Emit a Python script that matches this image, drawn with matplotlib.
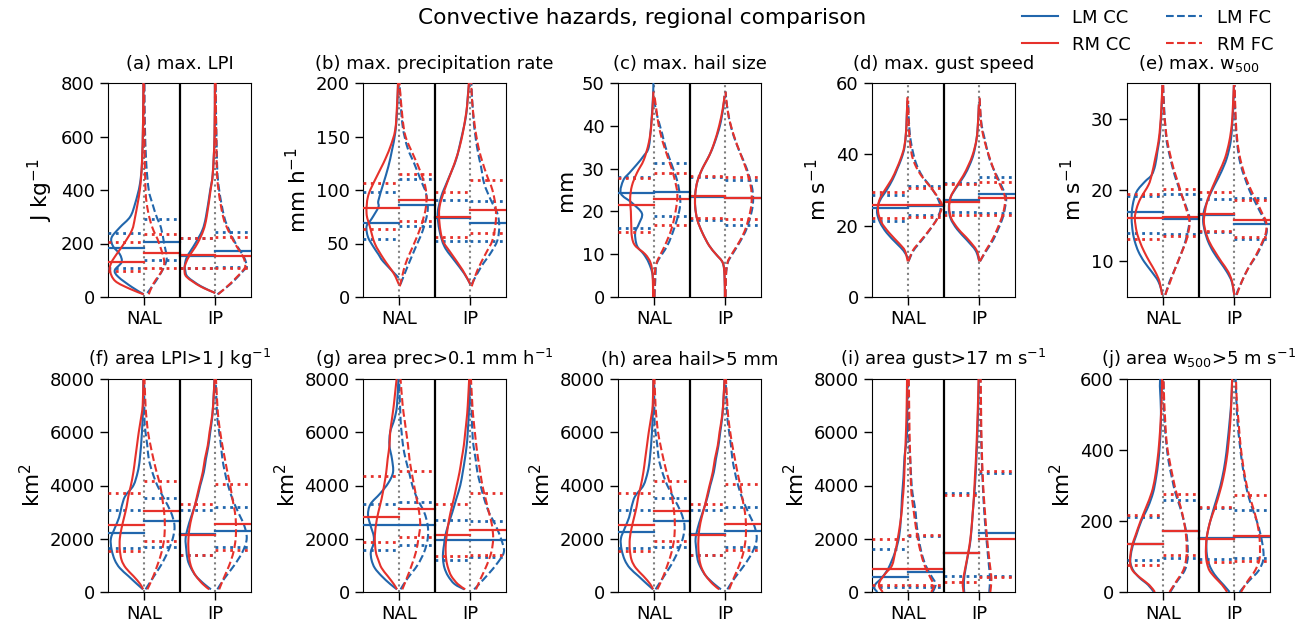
import matplotlib
matplotlib.use('Agg')
import matplotlib.pyplot as plt
from matplotlib.lines import Line2D
from matplotlib.path import Path
from matplotlib.patches import PathPatch

# ---------------- metadata ----------------
PANELS = ['A', 'B', 'C', 'D', 'E', 'F', 'G', 'H', 'I', 'J']
REGIONS = ['NAL', 'IP']
SERIES = ['LM_CC', 'RM_CC', 'LM_FC', 'RM_FC']
TITLES = ['(a) max. LPI', '(b) max. precipitation rate', '(c) max. hail size',
          '(d) max. gust speed', '(e) max. w$_{500}$',
          '(f) area LPI>1 J kg$^{-1}$', '(g) area prec>0.1 mm h$^{-1}$',
          '(h) area hail>5 mm', '(i) area gust>17 m s$^{-1}$',
          '(j) area w$_{500}$>5 m s$^{-1}$']
YLABELS = ['J kg$^{-1}$', 'mm h$^{-1}$', 'mm', 'm s$^{-1}$', 'm s$^{-1}$',
           'km$^2$', 'km$^2$', 'km$^2$', 'km$^2$', 'km$^2$']
YLIMS = [(0, 800), (0, 200), (0, 50), (0, 60), (5, 35),
         (0, 8000), (0, 8000), (0, 8000), (0, 8000), (0, 600)]
YTICKS = [[0, 200, 400, 600, 800], [0, 50, 100, 150, 200], [0, 10, 20, 30, 40, 50],
          [0, 20, 40, 60], [10, 20, 30], [0, 2000, 4000, 6000, 8000],
          [0, 2000, 4000, 6000, 8000], [0, 2000, 4000, 6000, 8000],
          [0, 2000, 4000, 6000, 8000], [0, 200, 400, 600]]
LEGEND_LABELS = ['LM CC', 'RM CC', 'LM FC', 'RM FC']

# ---------------- summary lines (NAL: LM_CC, RM_CC, LM_FC, RM_FC, then IP: same) -------------
A_MEAN = [185, 130, 207, 165, 152, 156, 171, 155]
A_Q25 = [110, 97, 137, 110, 110, 110, 112, 108]
A_Q75 = [240, 207, 291, 235, 222, 222, 244, 225]
B_MEAN = [69, 83, 86, 91, 74, 75, 69, 81]
B_Q25 = [54, 64, 66, 71, 52, 56, 52, 60]
B_Q75 = [98, 107, 110, 115, 91, 98, 90, 109]
C_MEAN = [24.2, 21.5, 24.6, 23.0, 23.4, 23.6, 23.2, 23.1]
C_Q25 = [16.2, 15.2, 19.0, 16.8, 18.0, 18.4, 16.8, 18.3]
C_Q75 = [28.0, 27.8, 31.3, 29.0, 28.0, 28.2, 27.4, 28.1]
D_MEAN = [25.0, 25.8, 25.5, 25.8, 27.2, 26.6, 28.8, 27.8]
D_Q25 = [21.3, 22.2, 23.0, 22.3, 23.9, 23.0, 23.6, 23.0]
D_Q75 = [28.6, 29.5, 31.1, 30.5, 32.0, 31.7, 33.7, 32.3]
E_MEAN = [16.96, 16.1, 15.9, 16.2, 16.5, 16.6, 15.2, 15.75]
E_Q25 = [14.0, 13.1, 13.9, 13.55, 14.15, 14.25, 13.2, 13.45]
E_Q75 = [19.2, 19.4, 19.5, 20.1, 18.8, 19.7, 18.9, 18.6]
F_MEAN = [2215, 2528, 2678, 3054, 2160, 2153, 2303, 2566]
F_Q25 = [1652, 1539, 1700, 1920, 1377, 1377, 1690, 1564]
F_Q75 = [3091, 3717, 3529, 4155, 3091, 3304, 3179, 4068]
G_MEAN = [2503, 2828, 2528, 3129, 1965, 2153, 1940, 2340]
G_Q25 = [1564, 1877, 1752, 2065, 1214, 1339, 1302, 1377]
G_Q75 = [3292, 4343, 3367, 4543, 2716, 3292, 2653, 3717]
H_MEAN = [2253, 2528, 2678, 3041, 2160, 2153, 2290, 2566]
H_Q25 = [1652, 1550, 1700, 1910, 1377, 1377, 1690, 1564]
H_Q75 = [3091, 3717, 3529, 4155, 3091, 3304, 3179, 4068]
I_MEAN = [551, 876, 738, 876, 1464, 1464, 2215, 1990]
I_Q25 = [170, 263, 170, 280, 613, 375, 610, 580]
I_Q75 = [1627, 1990, 2120, 2153, 3717, 3654, 4468, 4555]
J_MEAN = [135, 135, 171, 171, 153, 149, 155, 159]
J_Q25 = [91, 75, 95, 103, 93, 85, 97, 87]
J_Q75 = [210, 216, 260, 275, 237, 239, 232, 272]

# ---------------- violin outlines: [value, half-width fraction] ----------------
A_NAL_LM_CC = [[10, 0], [37, .33], [75, .71], [100, .81], [130, .62], [160, .67], [190, .86], [222, .9], [260, .67], [300, .38], [350, .24], [420, .11], [500, .05], [650, .02], [800, .01]]
A_NAL_RM_CC = [[10, 0], [30, .38], [60, .8], [100, .95], [130, .9], [160, .76], [200, .55], [250, .33], [300, .24], [400, .11], [500, .05], [650, .02], [800, .01]]
A_NAL_LM_FC = [[15, .1], [50, .29], [90, .48], [140, .64], [200, .57], [260, .48], [300, .36], [350, .24], [400, .14], [500, .07], [650, .03], [800, .02]]
A_NAL_RM_FC = [[10, .14], [50, .27], [120, .57], [200, .43], [260, .24], [320, .12], [400, .05], [600, .02], [800, .01]]
A_IP_LM_CC = [[15, 0], [40, .4], [75, .77], [100, .84], [120, .85], [150, .79], [200, .56], [250, .36], [300, .26], [400, .14], [460, .07], [600, .02], [800, .01]]
A_IP_RM_CC = [[15, 0], [40, .42], [75, .8], [100, .86], [120, .84], [150, .74], [200, .5], [250, .33], [300, .24], [400, .13], [460, .07], [600, .02], [800, .01]]
A_IP_LM_FC = [[10, .06], [50, .44], [100, .8], [115, .88], [150, .8], [200, .57], [250, .39], [300, .25], [400, .11], [500, .05], [800, .01]]
A_IP_RM_FC = [[10, .08], [50, .42], [100, .78], [120, .84], [150, .78], [200, .55], [250, .36], [300, .22], [400, .09], [500, .04], [800, .01]]

B_NAL_LM_CC = [[18, 0], [33, .43], [40, .57], [47, .71], [56, .86], [66, .9], [73, .76], [84, .57], [90, .57], [106, .43], [122, .29], [137, .19], [153, .1], [172, .05], [200, .02]]
B_NAL_RM_CC = [[12, 0], [22, .14], [36, .43], [50, .67], [66, .81], [78, .9], [94, .86], [109, .67], [125, .43], [140, .24], [156, .1], [178, .05], [200, .02]]
B_NAL_LM_FC = [[12, .05], [28, .24], [47, .48], [62, .67], [81, .81], [97, .76], [109, .62], [125, .43], [140, .24], [162, .1], [200, .02]]
B_NAL_RM_FC = [[10, .03], [31, .19], [50, .43], [66, .62], [84, .76], [100, .76], [116, .62], [131, .43], [150, .19], [169, .1], [200, .02]]
B_IP_LM_CC = [[12, 0], [22, .17], [34, .44], [47, .72], [62, .86], [78, .91], [94, .81], [109, .63], [128, .4], [147, .26], [169, .12], [191, .06], [200, .03]]
B_IP_RM_CC = [[12, 0], [25, .21], [41, .54], [53, .77], [69, .86], [84, .86], [100, .72], [116, .54], [134, .35], [153, .21], [178, .09], [200, .04]]
B_IP_LM_FC = [[12, .04], [28, .3], [41, .57], [53, .76], [66, .81], [78, .76], [91, .57], [106, .39], [122, .3], [140, .19], [166, .09], [200, .03]]
B_IP_RM_FC = [[10, .04], [25, .2], [41, .44], [53, .62], [69, .71], [84, .71], [100, .62], [116, .44], [137, .25], [159, .13], [184, .05], [200, .03]]

C_NAL_LM_CC = [[0, .02], [5, .03], [8, .14], [10, .28], [12, .47], [15, .52], [17, .42], [19.5, .33], [22, .61], [24.2, .92], [27.3, .85], [29, .68], [31, .47], [33, .28], [35, .14], [40.5, .07], [47, .02], [50, .01]]
C_NAL_RM_CC = [[0, .02], [5, .03], [8, .09], [10, .24], [12, .52], [14, .61], [17, .63], [20, .64], [23, .66], [26, .61], [29, .47], [32, .28], [36, .14], [40, .07], [46, .02], [48, .01]]
C_NAL_LM_FC = [[0, .02], [5, .05], [8, .09], [12, .38], [16, .57], [20, .71], [23, .74], [27, .66], [31, .5], [35, .33], [38, .24], [41, .14], [44, .05], [47, .01]]
C_NAL_RM_FC = [[0, .02], [5, .03], [8, .08], [12, .31], [16, .5], [20, .61], [24, .66], [28, .57], [32, .42], [36, .26], [40, .14], [44, .07], [47, .02]]
C_IP_LM_CC = [[0, .01], [5, .02], [8, .07], [10, .26], [12, .45], [15, .64], [18, .78], [21, .84], [24, .84], [27, .78], [30, .64], [33, .45], [36, .3], [40, .15], [44, .06], [47, .02]]
C_IP_RM_CC = [[0, .01], [5, .02], [8, .07], [10, .26], [12, .45], [15, .64], [18, .78], [21, .84], [24, .84], [27, .78], [30, .64], [33, .45], [36, .31], [40, .17], [44, .07], [47, .02]]
C_IP_LM_FC = [[0, .01], [5, .02], [8, .07], [10, .2], [13, .42], [16, .6], [20, .74], [23, .78], [26, .74], [30, .6], [34, .4], [38, .22], [42, .1], [46, .03], [48, .01]]
C_IP_RM_FC = [[0, .01], [5, .02], [8, .06], [10, .18], [13, .4], [16, .57], [20, .7], [23, .74], [26, .71], [30, .58], [34, .4], [38, .23], [42, .1], [46, .03], [48, .01]]

D_NAL_LM_CC = [[11, 0], [13, .12], [15, .31], [18, .59], [21, .78], [24, .86], [27, .78], [30, .59], [33, .42], [36, .29], [39, .17], [42, .09], [46, .05], [50, .03], [55, .01]]
D_NAL_RM_CC = [[10, 0], [13, .08], [15, .24], [18, .52], [21, .74], [24, .83], [27, .8], [30, .64], [33, .45], [36, .31], [39, .19], [42, .1], [46, .05], [50, .03], [56, .01]]
D_NAL_LM_FC = [[10, .02], [13, .16], [16, .4], [19, .63], [22, .82], [25, .92], [28, .82], [31, .63], [34, .4], [37, .25], [40, .16], [44, .08], [48, .04], [52, .02], [55, .01]]
D_NAL_RM_FC = [[10, .02], [13, .14], [16, .38], [19, .62], [22, .83], [25.5, .96], [28, .84], [31, .62], [34, .38], [37, .21], [40, .11], [44, .06], [48, .03], [55, .01]]
D_IP_LM_CC = [[10, 0], [13, .1], [16, .35], [19, .62], [22, .8], [25, .85], [28, .8], [31, .62], [34, .42], [37, .27], [40, .16], [44, .08], [48, .04], [54, .01]]
D_IP_RM_CC = [[10, 0], [13, .07], [16, .3], [19, .58], [22, .78], [25, .84], [28, .8], [31, .64], [34, .45], [37, .3], [40, .18], [44, .08], [48, .04], [54, .01]]
D_IP_LM_FC = [[10, .02], [13, .2], [16, .39], [19, .53], [22, .65], [25, .72], [28, .75], [31, .63], [34, .49], [37, .35], [40, .25], [44, .16], [48, .07], [52, .03], [56, .01]]
D_IP_RM_FC = [[10, .02], [13, .18], [16, .36], [19, .5], [22, .62], [25, .7], [28, .72], [31, .6], [34, .47], [37, .36], [40, .26], [44, .14], [48, .06], [52, .03], [56, .01]]

E_NAL_LM_CC = [[5.3, 0], [7.15, .12], [8.55, .31], [9.95, .52], [11.36, .68], [12.76, .78], [14.16, .84], [16.03, .87], [17.9, .84], [19.77, .73], [21.17, .5], [22.1, .31], [23.5, .21], [25.37, .15], [27.24, .09], [29.11, .06], [31.45, .03], [34.72, .01]]
E_NAL_RM_CC = [[5.3, .02], [7.15, .09], [8.55, .21], [9.95, .37], [11.36, .52], [12.76, .64], [14.16, .73], [16.03, .78], [17.43, .73], [18.83, .62], [20.7, .4], [22.1, .31], [24.44, .21], [26.78, .12], [29.11, .07], [31.45, .04], [34.72, .01]]
E_NAL_LM_FC = [[5.3, .07], [7.15, .19], [9.02, .35], [10.89, .5], [12.76, .63], [14.63, .72], [16.03, .75], [17.43, .67], [19.3, .53], [21.17, .39], [23.04, .28], [24.91, .19], [26.78, .11], [29.11, .07], [31.45, .04], [34.72, .01]]
E_NAL_RM_FC = [[5.3, .07], [7.15, .21], [9.02, .35], [10.89, .5], [12.76, .65], [14.16, .72], [15.56, .75], [17.43, .65], [19.3, .53], [21.17, .42], [23.04, .3], [24.91, .21], [26.78, .13], [29.11, .07], [31.45, .03], [34.72, .01]]
E_IP_LM_CC = [[5.3, 0], [7.15, .07], [8.55, .21], [9.95, .4], [11.36, .59], [12.76, .73], [14.16, .82], [15.56, .87], [16.96, .85], [18.36, .76], [19.77, .64], [21.17, .5], [22.57, .36], [24.44, .21], [26.78, .1], [29.11, .06], [31.45, .03], [34.72, .01]]
E_IP_RM_CC = [[5.3, 0], [7.15, .06], [8.55, .17], [9.95, .36], [11.36, .54], [12.76, .7], [14.16, .8], [15.56, .85], [16.96, .82], [18.36, .76], [19.77, .66], [21.17, .54], [22.57, .42], [24.44, .26], [26.78, .14], [29.11, .07], [31.45, .04], [34.72, .01]]
E_IP_LM_FC = [[5.3, .05], [7.15, .21], [9.02, .39], [10.89, .63], [12.76, .81], [14.16, .91], [15.56, .86], [16.96, .72], [18.36, .58], [19.77, .44], [21.64, .3], [23.5, .18], [25.37, .11], [27.24, .07], [30.05, .03], [34.72, .01]]
E_IP_RM_FC = [[5.3, .07], [7.15, .21], [9.02, .39], [10.89, .61], [12.76, .79], [14.16, .89], [15.56, .89], [16.96, .76], [18.36, .63], [19.77, .49], [21.64, .33], [23.5, .21], [25.37, .13], [27.24, .08], [30.05, .04], [34.72, .01]]

F_NAL_LM_CC = [[100, .02], [300, .19], [600, .43], [900, .67], [1200, .81], [1600, .9], [2000, .92], [2400, .81], [2800, .69], [3200, .62], [3600, .52], [4000, .29], [4500, .17], [5000, .11], [6000, .05], [7000, .02], [8000, .01]]
F_NAL_RM_CC = [[100, .02], [300, .1], [600, .29], [900, .5], [1200, .62], [1600, .67], [2000, .67], [2400, .62], [2800, .55], [3200, .48], [3600, .43], [4000, .36], [4500, .29], [5000, .24], [5500, .19], [6000, .14], [6500, .08], [7000, .03], [8000, .01]]
F_NAL_LM_FC = [[100, .05], [500, .24], [1000, .48], [1500, .67], [2000, .81], [2500, .86], [3000, .76], [3500, .57], [4000, .38], [4500, .24], [5000, .14], [5500, .1], [6000, .05], [6500, .02], [8000, .01]]
F_NAL_RM_FC = [[100, .1], [500, .24], [1000, .38], [1500, .5], [2000, .57], [2500, .59], [3000, .57], [3500, .52], [4000, .46], [4500, .36], [5000, .27], [5500, .19], [6000, .12], [6500, .08], [7000, .05], [8000, .02]]
F_IP_LM_CC = [[100, .12], [300, .31], [600, .54], [900, .68], [1200, .77], [1600, .81], [2000, .83], [2400, .77], [2800, .68], [3200, .58], [3600, .49], [4000, .42], [4500, .32], [5000, .26], [5500, .19], [6000, .14], [6500, .09], [7000, .06], [8000, .02]]
F_IP_RM_CC = [[100, .17], [300, .35], [600, .54], [900, .66], [1200, .72], [1600, .75], [2000, .75], [2400, .72], [2800, .66], [3200, .58], [3600, .51], [4000, .44], [4500, .35], [5000, .29], [5500, .21], [6000, .16], [6500, .1], [7000, .06], [8000, .02]]
F_IP_LM_FC = [[100, .06], [500, .25], [1000, .53], [1500, .76], [2000, .88], [2500, .81], [3000, .64], [3500, .48], [4000, .36], [4500, .27], [5000, .2], [5500, .16], [6000, .11], [6500, .06], [7000, .04], [8000, .01]]
F_IP_RM_FC = [[100, .11], [500, .23], [1000, .39], [1500, .51], [2000, .57], [2500, .58], [3000, .55], [3500, .48], [4000, .42], [4500, .34], [5000, .27], [5500, .2], [6000, .14], [6500, .09], [7000, .06], [8000, .02]]

G_NAL_LM_CC = [[100, .05], [300, .24], [600, .48], [900, .67], [1200, .76], [1500, .78], [1800, .71], [2100, .7], [2500, .79], [2900, .86], [3300, .79], [3700, .52], [4100, .29], [4500, .16], [5000, .19], [5500, .26], [6000, .24], [6500, .12], [7000, .05], [8000, .01]]
G_NAL_RM_CC = [[100, .05], [300, .14], [600, .31], [900, .48], [1200, .57], [1500, .64], [2000, .67], [2500, .64], [3000, .57], [3500, .48], [4000, .41], [4500, .35], [5000, .31], [5500, .26], [6000, .24], [6500, .19], [7000, .14], [7500, .1], [8000, .06]]
G_NAL_LM_FC = [[100, .05], [500, .24], [1000, .52], [1500, .71], [2000, .81], [2500, .81], [3000, .71], [3500, .52], [4000, .38], [4500, .29], [5000, .19], [5500, .12], [6000, .08], [6500, .05], [8000, .01]]
G_NAL_RM_FC = [[100, .1], [500, .22], [1000, .36], [1500, .48], [2000, .55], [2500, .6], [3000, .57], [3500, .5], [4000, .43], [4500, .36], [5000, .3], [5500, .26], [6000, .21], [6500, .16], [7000, .11], [8000, .05]]
G_IP_LM_CC = [[100, .17], [300, .44], [600, .62], [900, .72], [1200, .76], [1500, .76], [1800, .73], [2100, .7], [2500, .62], [3000, .5], [3500, .39], [4000, .28], [4500, .21], [5000, .15], [5500, .1], [6000, .07], [7000, .03], [8000, .01]]
G_IP_RM_CC = [[100, .14], [300, .35], [600, .53], [900, .62], [1200, .67], [1600, .69], [2000, .67], [2500, .62], [3000, .55], [3500, .46], [4000, .38], [4500, .3], [5000, .24], [5500, .18], [6000, .14], [6500, .1], [7000, .07], [8000, .03]]
G_IP_LM_FC = [[100, .11], [500, .39], [1000, .71], [1500, .94], [2000, .86], [2500, .71], [3000, .52], [3500, .39], [4000, .29], [4500, .2], [5000, .15], [5500, .09], [6000, .06], [7000, .03], [8000, .01]]
G_IP_RM_FC = [[100, .16], [500, .29], [1000, .46], [1500, .59], [2000, .64], [2500, .61], [3000, .52], [3500, .43], [4000, .34], [4500, .28], [5000, .22], [5500, .17], [6000, .13], [6500, .09], [7000, .06], [8000, .02]]

H_NAL_LM_CC = [[100, .02], [300, .19], [600, .43], [900, .67], [1200, .81], [1600, .9], [2000, .92], [2400, .81], [2800, .69], [3200, .62], [3600, .52], [4000, .29], [4500, .17], [5000, .11], [6000, .05], [7000, .02], [8000, .01]]
H_NAL_RM_CC = [[100, .02], [300, .1], [600, .29], [900, .5], [1200, .62], [1600, .67], [2000, .67], [2400, .62], [2800, .55], [3200, .48], [3600, .43], [4000, .36], [4500, .29], [5000, .24], [5500, .19], [6000, .14], [6500, .08], [7000, .03], [8000, .01]]
H_NAL_LM_FC = [[100, .05], [500, .24], [1000, .48], [1500, .67], [2000, .81], [2500, .86], [3000, .76], [3500, .57], [4000, .38], [4500, .24], [5000, .14], [5500, .1], [6000, .05], [6500, .02], [8000, .01]]
H_NAL_RM_FC = [[100, .1], [500, .24], [1000, .38], [1500, .5], [2000, .57], [2500, .59], [3000, .57], [3500, .52], [4000, .46], [4500, .36], [5000, .27], [5500, .19], [6000, .12], [6500, .08], [7000, .05], [8000, .02]]
H_IP_LM_CC = [[100, .12], [300, .31], [600, .54], [900, .68], [1200, .77], [1600, .81], [2000, .83], [2400, .77], [2800, .68], [3200, .58], [3600, .49], [4000, .42], [4500, .32], [5000, .26], [5500, .19], [6000, .14], [6500, .09], [7000, .06], [8000, .02]]
H_IP_RM_CC = [[100, .17], [300, .35], [600, .54], [900, .66], [1200, .72], [1600, .75], [2000, .75], [2400, .72], [2800, .66], [3200, .58], [3600, .51], [4000, .44], [4500, .35], [5000, .29], [5500, .21], [6000, .16], [6500, .1], [7000, .06], [8000, .02]]
H_IP_LM_FC = [[100, .06], [500, .25], [1000, .53], [1500, .76], [2000, .88], [2500, .81], [3000, .64], [3500, .48], [4000, .36], [4500, .27], [5000, .2], [5500, .16], [6000, .11], [6500, .06], [7000, .04], [8000, .01]]
H_IP_RM_FC = [[100, .11], [500, .23], [1000, .39], [1500, .51], [2000, .57], [2500, .58], [3000, .55], [3500, .48], [4000, .42], [4500, .34], [5000, .27], [5500, .2], [6000, .14], [6500, .09], [7000, .06], [8000, .02]]

I_NAL_LM_CC = [[0, .85], [150, .94], [300, .9], [500, .75], [800, .58], [1100, .47], [1600, .33], [2100, .24], [2800, .19], [3600, .16], [4300, .12], [5100, .09], [5500, .05], [6100, .02], [8000, .01]]
I_NAL_RM_CC = [[0, .7], [200, .8], [400, .78], [700, .62], [1000, .44], [1500, .35], [2000, .28], [2500, .22], [3000, .17], [3500, .14], [4000, .11], [5000, .08], [6000, .05], [7000, .03], [8000, .02]]
I_NAL_LM_FC = [[0, .7], [300, .78], [600, .66], [1000, .5], [1500, .38], [2000, .31], [2500, .25], [3000, .22], [3500, .16], [4000, .11], [5000, .07], [6000, .03], [8000, .01]]
I_NAL_RM_FC = [[0, .66], [250, .73], [600, .61], [1000, .47], [1500, .36], [2000, .28], [2500, .22], [3000, .17], [3500, .12], [4000, .09], [5000, .07], [6000, .05], [8000, .03]]
I_IP_LM_CC = [[0, .42], [400, .43], [900, .38], [1500, .3], [2000, .24], [3000, .18], [4000, .12], [5000, .08], [6000, .05], [7000, .03], [8000, .01]]
I_IP_RM_CC = [[0, .44], [340, .46], [840, .4], [1460, .31], [2090, .24], [2840, .19], [3590, .15], [4340, .12], [5090, .09], [6100, .06], [7350, .03], [8000, .02]]
I_IP_LM_FC = [[0, .28], [500, .3], [1000, .27], [2000, .2], [3000, .14], [4000, .1], [5000, .07], [6000, .05], [7000, .04], [8000, .03]]
I_IP_RM_FC = [[0, .31], [500, .34], [1000, .3], [2000, .22], [3000, .16], [4000, .11], [5000, .08], [6000, .06], [7000, .05], [8000, .04]]

J_NAL_LM_CC = [[0, .25], [20, .41], [40, .65], [60, .82], [80, .9], [100, .9], [130, .84], [160, .74], [200, .6], [240, .41], [280, .27], [320, .19], [370, .12], [420, .08], [480, .05], [540, .06], [580, .08], [600, .07]]
J_NAL_RM_CC = [[0, .22], [20, .38], [40, .63], [60, .84], [80, .91], [100, .91], [130, .86], [160, .76], [200, .62], [240, .46], [280, .31], [320, .22], [370, .15], [420, .1], [480, .06], [540, .03], [600, .02]]
J_NAL_LM_FC = [[0, .21], [30, .4], [60, .61], [90, .69], [120, .7], [160, .67], [200, .59], [240, .48], [280, .35], [320, .26], [370, .16], [420, .1], [480, .05], [540, .03], [600, .02]]
J_NAL_RM_FC = [[0, .19], [30, .38], [60, .57], [90, .65], [120, .67], [160, .65], [200, .59], [240, .5], [280, .38], [320, .29], [370, .19], [420, .11], [480, .07], [540, .04], [600, .02]]
J_IP_LM_CC = [[0, .13], [20, .3], [40, .48], [60, .62], [80, .71], [100, .76], [130, .78], [160, .76], [200, .67], [240, .56], [280, .44], [320, .34], [370, .25], [420, .19], [480, .13], [540, .08], [600, .06]]
J_IP_RM_CC = [[0, .2], [20, .34], [40, .53], [60, .69], [80, .76], [100, .79], [130, .79], [160, .76], [200, .67], [240, .53], [280, .41], [320, .31], [370, .22], [420, .16], [480, .11], [540, .08], [600, .06]]
J_IP_LM_FC = [[0, .15], [30, .4], [60, .68], [90, .81], [120, .81], [160, .74], [200, .63], [240, .49], [280, .37], [320, .29], [370, .21], [420, .15], [480, .09], [540, .06], [600, .04]]
J_IP_RM_FC = [[0, .19], [30, .37], [60, .58], [90, .7], [120, .72], [160, .7], [200, .63], [240, .52], [280, .4], [320, .31], [370, .23], [420, .17], [480, .12], [540, .07], [600, .05]]

# ---------------- style ----------------
BLUE = '#2166ac'
RED = '#e6312b'
FS = 13
DASH = (0, (3.7, 1.6))
plt.rcParams['font.family'] = ['DejaVu Sans']
plt.rcParams['font.size'] = FS

W, H = 1309, 626
fig = plt.figure(figsize=(W / 100, H / 100), dpi=100)

LEFTS = [108, 363, 618, 872, 1127]
AX_W = 143
ROWS = [(83, 297), (379, 592)]

DRAW_ORDER = ['LM_CC', 'LM_FC', 'RM_CC', 'RM_FC']


def smooth_path(xs, ys):
    """Smooth drawing path through the read points (Catmull-Rom as cubic Bezier)."""
    pts = list(zip(xs, ys))
    n = len(pts)
    verts = [pts[0]]
    codes = [Path.MOVETO]
    for i in range(n - 1):
        p0 = pts[i - 1] if i > 0 else pts[i]
        p1 = pts[i]
        p2 = pts[i + 1]
        p3 = pts[i + 2] if i + 2 < n else pts[i + 1]
        c1 = (p1[0] + (p2[0] - p0[0]) / 6, p1[1] + (p2[1] - p0[1]) / 6)
        c2 = (p2[0] - (p3[0] - p1[0]) / 6, p2[1] - (p3[1] - p1[1]) / 6)
        verts += [c1, c2, p2]
        codes += [Path.CURVE4] * 3
    return Path(verts, codes)


for k, p in enumerate(PANELS):
    row, col = divmod(k, 5)
    top, bot = ROWS[row]
    ax = fig.add_axes([LEFTS[col] / W, 1 - bot / H, AX_W / W, (bot - top) / H])
    lo, hi = YLIMS[k]
    means = globals()[p + '_MEAN']
    q25 = globals()[p + '_Q25']
    q75 = globals()[p + '_Q75']
    for ri, reg in enumerate(REGIONS):
        c = ri
        ax.plot([c, c], [lo, hi], color='gray', ls=':', lw=1.5, zorder=1)
        for s in DRAW_ORDER:
            si = SERIES.index(s)
            idx = ri * 4 + si
            color = BLUE if s.startswith('LM') else RED
            cc = s.endswith('CC')
            side = -1 if cc else 1
            prof = globals()[f'{p}_{reg}_{s}']
            ys = [v for v, w in prof]
            xs = [c + side * 0.5 * w for v, w in prof]
            z = 3 if s.startswith('LM') else 4
            patch = PathPatch(smooth_path(xs, ys), fill=False, edgecolor=color, lw=1.5,
                              ls='-' if cc else DASH, zorder=z, clip_on=True)
            ax.add_patch(patch)
            x0, x1 = (c - 0.5, c) if cc else (c, c + 0.5)
            ax.plot([x0, x1], [means[idx]] * 2, color=color, lw=1.6, zorder=z)
            for q in (q25[idx], q75[idx]):
                ax.plot([x0, x1], [q, q], color=color, lw=2, ls=':', zorder=z)
    ax.axvline(0.5, color='black', lw=1.6, zorder=5)
    ax.set_xlim(-0.5, 1.5)
    ax.set_ylim(lo, hi)
    ax.set_yticks(YTICKS[k])
    ax.set_xticks([0, 1])
    ax.set_xticklabels(REGIONS)
    ax.tick_params(labelsize=FS, length=6, width=1)
    ax.set_title(TITLES[k], fontsize=FS, pad=10)
    ax.set_ylabel(YLABELS[k], fontsize=15.6)

handles = [Line2D([], [], color=BLUE, lw=1.5),
           Line2D([], [], color=RED, lw=1.5),
           Line2D([], [], color=BLUE, lw=1.5, ls=DASH),
           Line2D([], [], color=RED, lw=1.5, ls=DASH)]
fig.legend(handles, LEGEND_LABELS, loc='upper right', bbox_to_anchor=(0.985, 1.012),
           ncol=2, frameon=False, fontsize=FS, columnspacing=1.93)
fig.text(0.4905, 0.971, 'Convective hazards, regional comparison', ha='center', va='center',
         fontsize=15.6)

fig.savefig('out.png', dpi=100)
